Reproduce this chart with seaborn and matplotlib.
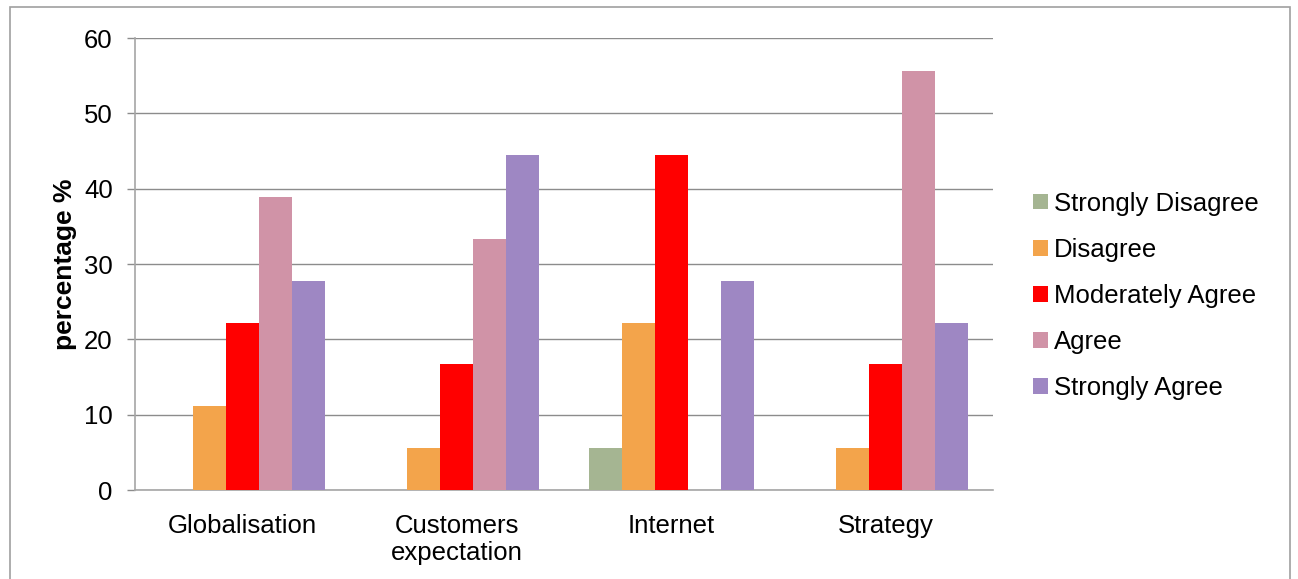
import matplotlib
matplotlib.use("Agg")
import matplotlib.pyplot as plt
from matplotlib.patches import Rectangle
import seaborn as sns
import pandas as pd

categories = ["Globalisation", "Customers\nexpectation", "Internet", "Strategy"]
responses = ["Strongly Disagree", "Disagree", "Moderately Agree", "Agree", "Strongly Agree"]
strongly_disagree = [0.0, 0.0, 5.56, 0.0]
disagree = [11.11, 5.56, 22.22, 5.56]
moderately_agree = [22.22, 16.67, 44.44, 16.67]
agree = [38.89, 33.33, 0.0, 55.56]
strongly_agree = [27.78, 44.44, 27.78, 22.22]
colors = ["#A5B592", "#F3A44B", "#FF0000", "#D093A7", "#9E87C3"]

series = [strongly_disagree, disagree, moderately_agree, agree, strongly_agree]
rows = []
for resp, vals in zip(responses, series):
    for cat, v in zip(categories, vals):
        rows.append({"category": cat, "response": resp, "value": v})
df = pd.DataFrame(rows)

sns.set_theme(style="white")
plt.rcParams["font.family"] = ["Liberation Sans", "DejaVu Sans"]
plt.rcParams["text.color"] = "black"

W, H = 1298, 579
FS = 18.5

fig = plt.figure(figsize=(W / 100, H / 100), dpi=100)
ax = fig.add_axes([135 / W, 1 - 490 / H, (993 - 135) / W, (490 - 38) / H])

sns.barplot(data=df, x="category", y="value", hue="response", order=categories,
            hue_order=responses, palette=colors, width=0.77, gap=0,
            saturation=1, edgecolor="none", linewidth=0, ax=ax, zorder=3)

grid_c = "#8C8C8C"
ax.set_ylim(0, 60)
ax.set_xlim(-0.5, 3.5)
ax.set_yticks(range(0, 61, 10))
ax.yaxis.grid(True, color=grid_c, linewidth=1)
ax.set_axisbelow(True)
for s in ["top", "right"]:
    ax.spines[s].set_visible(False)
for s in ["left", "bottom"]:
    ax.spines[s].set_color("#A6A6A6")
    ax.spines[s].set_linewidth(1.2)
ax.tick_params(axis="y", which="major", left=True, length=6, width=1,
               color=grid_c, labelsize=FS, pad=10, labelcolor="black")
ax.tick_params(axis="x", bottom=False, labelsize=FS, pad=11, labelcolor="black")
for lbl in ax.get_xticklabels():
    lbl.set_linespacing(1.2)
ax.set_xlabel("")
ax.set_ylabel("percentage %", fontsize=19, fontweight="bold", color="black", labelpad=5)

ax.legend(loc="center left", bbox_to_anchor=(1033 / W, 1 - 296 / H),
          bbox_transform=fig.transFigure, frameon=False, fontsize=FS,
          labelcolor="black",
          handlelength=0.58, handleheight=0.55, handletextpad=0.25,
          labelspacing=0.86, borderaxespad=0, borderpad=0)

fig.add_artist(Rectangle((10 / W, -0.05), 1280 / W, 1.05 - 7 / H,
                         transform=fig.transFigure, fill=False,
                         edgecolor="#A0A0A0", linewidth=1.2))

fig.savefig("out.png", dpi=100)
